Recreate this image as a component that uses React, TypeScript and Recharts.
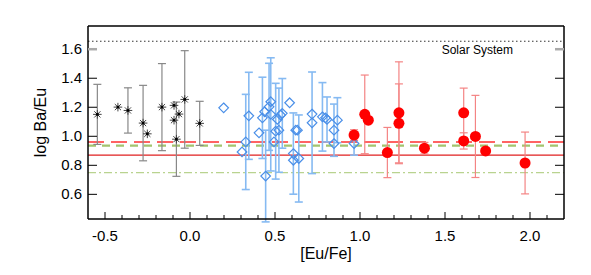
import React from 'react';
import { ComposedChart, Scatter, XAxis, YAxis, ErrorBar, ReferenceLine } from 'recharts';

const FONT = '"Liberation Sans", Arial, Helvetica, sans-serif';

// axis ticks
const xMajorTicks = [-0.5, 0.0, 0.5, 1.0, 1.5, 2.0];
const xMinorTicks = [-0.4, -0.3, -0.2, -0.1, 0.1, 0.2, 0.3, 0.4, 0.6, 0.7, 0.8, 0.9, 1.1, 1.2, 1.3, 1.4, 1.6, 1.7, 1.8, 1.9, 2.1];
const yTicks = [0.6, 0.8, 1.0, 1.2, 1.4, 1.6];

// horizontal reference levels
const solarLevel = 1.655;
const redDashedLevel = 0.96;
const greenDashedLevel = 0.935;
const redSolidLevel = 0.87;
const greenDashDotLevel = 0.75;

// black asterisks (err 0 = no error bar)
const starX = [-0.545, -0.424, -0.365, -0.276, -0.251, -0.165, -0.094, -0.094, -0.080, -0.065, -0.031, 0.057];
const starY = [1.151, 1.201, 1.178, 1.091, 1.017, 1.201, 1.213, 1.111, 0.980, 1.153, 1.254, 1.089];
const starErr = [0.207, 0, 0.156, 0.26, 0, 0.30, 0, 0, 0.256, 0, 0.336, 0.152];

// blue diamonds
const diaX = [0.198, 0.306, 0.328, 0.346, 0.406, 0.426, 0.439, 0.445, 0.465, 0.475, 0.475, 0.494, 0.504, 0.514, 0.523, 0.533, 0.543, 0.586, 0.608, 0.608, 0.622, 0.632, 0.640, 0.718, 0.718, 0.779, 0.797, 0.806, 0.847, 0.847, 0.867, 0.965];
const diaY = [1.196, 0.892, 0.961, 1.141, 1.024, 1.127, 1.169, 0.726, 1.203, 1.238, 1.151, 0.961, 1.035, 1.116, 1.042, 1.146, 1.158, 1.231, 0.881, 0.835, 1.042, 1.042, 0.847, 1.153, 1.093, 1.134, 1.127, 1.116, 1.042, 0.950, 1.111, 0.950];
const diaErr = [0, 0, 0.328, 0.30, 0, 0.28, 0, 0.316, 0.30, 0, 0.39, 0, 0.33, 0, 0.29, 0, 0.24, 0, 0.28, 0, 0, 0, 0.30, 0, 0.35, 0.236, 0, 0.155, 0.18, 0, 0.155, 0.08];

// red filled circles
const dotX = [0.965, 1.028, 1.049, 1.161, 1.229, 1.229, 1.379, 1.610, 1.610, 1.679, 1.739, 1.971];
const dotY = [1.008, 1.151, 1.111, 0.888, 1.162, 1.089, 0.918, 1.162, 0.968, 0.999, 0.899, 0.816];
const dotErr = [0.037, 0.271, 0, 0.173, 0.351, 0.272, 0.04, 0.17, 0.056, 0.283, 0, 0.213];

const toPoints = (xs: number[], ys: number[], es: number[]) =>
  xs.map((x, i) => ({ x, y: ys[i], err: es[i] }));

const stars = toPoints(starX, starY, starErr);
const diamonds = toPoints(diaX, diaY, diaErr);
const dots = toPoints(dotX, dotY, dotErr);

const hasErr = (p: any) => p.err > 0;
const noErr = (p: any) => !(p.err > 0);

const Star = (p: any) => {
  const { cx, cy } = p;
  const r = 4.3;
  const d = 3.1;
  return (
    <g stroke="#444" strokeWidth={1}>
      <line x1={cx - r} y1={cy} x2={cx + r} y2={cy} />
      <line x1={cx} y1={cy - r} x2={cx} y2={cy + r} />
      <line x1={cx - d} y1={cy - d} x2={cx + d} y2={cy + d} />
      <line x1={cx - d} y1={cy + d} x2={cx + d} y2={cy - d} />
      <rect x={cx - 1.3} y={cy - 1.3} width={2.6} height={2.6} fill="#000" stroke="none" />
    </g>
  );
};

const Diamond = (p: any) => {
  const { cx, cy } = p;
  const r = 4.8;
  return (
    <path d={`M${cx},${cy - r}L${cx + r},${cy}L${cx},${cy + r}L${cx - r},${cy}Z`}
      fill="none" stroke="#4a8fe8" strokeWidth={1.2} />
  );
};

const Dot = (p: any) => <circle cx={p.cx} cy={p.cy} r={5.5} fill="#ff0000" />;

const isMajorX = (v: number) => xMajorTicks.some(t => Math.abs(t - v) < 1e-6);

const BottomTick = (p: any) => {
  const { x, y, payload } = p;
  const major = isMajorX(payload.value);
  return (
    <g>
      <line x1={x} y1={y} x2={x} y2={y - (major ? 7 : 4)} stroke="#000" strokeWidth={1} />
      {major && (
        <text x={x} y={y + 22} textAnchor="middle" fontFamily={FONT} fontSize={15} fill="#000">
          {payload.value.toFixed(1)}
        </text>
      )}
    </g>
  );
};

const TopTick = (p: any) => {
  const { x, y, payload } = p;
  const major = isMajorX(payload.value);
  return <line x1={x} y1={y} x2={x} y2={y + (major ? 7 : 4)} stroke="#000" strokeWidth={1} />;
};

const LeftTick = (p: any) => {
  const { x, y, payload } = p;
  const top = Math.abs(payload.value - 1.6) < 1e-6;
  return (
    <g>
      <line x1={x} y1={y} x2={x + 9} y2={y} stroke={top ? '#aaa' : '#000'} strokeWidth={top ? 2.5 : 1} />
      <text x={x - 6} y={y + 5} textAnchor="end" fontFamily={FONT} fontSize={15} fill="#000">
        {payload.value.toFixed(1)}
      </text>
    </g>
  );
};

const RightTick = (p: any) => {
  const { x, y, payload } = p;
  const top = Math.abs(payload.value - 1.6) < 1e-6;
  return <line x1={x} y1={y} x2={x - 9} y2={y} stroke={top ? '#aaa' : '#000'} strokeWidth={top ? 2.5 : 1} />;
};

const axisLine = { stroke: '#000', strokeWidth: 1.5 };
const xDomain: [number, number] = [-0.6, 2.2];
const yDomain: [number, number] = [0.43, 1.76];
const allXTicks = [...xMajorTicks, ...xMinorTicks].sort((a, b) => a - b);

export default function App() {
  return (
    <div style={{ position: 'absolute', left: 0, top: 0 }}>
      <ComposedChart width={591} height={275} margin={{ top: 16, right: 17, bottom: 26, left: 28 }}>
        <XAxis xAxisId="b" dataKey="x" type="number" orientation="bottom" domain={xDomain} ticks={allXTicks}
          interval={0} allowDataOverflow height={30} tickSize={0} tickMargin={0} tickLine={false}
          axisLine={axisLine} tick={BottomTick}
          label={{ content: (lp: any) => (
            <text x={lp.viewBox.x + lp.viewBox.width / 2} y={lp.viewBox.y + 40} textAnchor="middle"
              fontFamily={FONT} fontSize={16} fill="#000">[Eu/Fe]</text>
          ) }} />
        <XAxis xAxisId="t" type="number" orientation="top" domain={xDomain} ticks={allXTicks}
          interval={0} allowDataOverflow height={10} tickSize={0} tickMargin={0} tickLine={false}
          axisLine={axisLine} tick={TopTick} />
        <YAxis yAxisId="l" dataKey="y" type="number" orientation="left" domain={yDomain} ticks={yTicks}
          interval={0} allowDataOverflow width={60} tickSize={0} tickMargin={0} tickLine={false}
          axisLine={axisLine} tick={LeftTick}
          label={{ content: (lp: any) => {
            const cx = lp.viewBox.x + 18;
            const cy = lp.viewBox.y + lp.viewBox.height / 2;
            return (
              <text x={cx} y={cy} transform={`rotate(-90, ${cx}, ${cy})`} textAnchor="middle"
                fontFamily={FONT} fontSize={16} fill="#000">log Ba/Eu</text>
            );
          } }} />
        <YAxis yAxisId="r" type="number" orientation="right" domain={yDomain} ticks={yTicks}
          interval={0} allowDataOverflow width={10} tickSize={0} tickMargin={0} tickLine={false}
          axisLine={axisLine} tick={RightTick} />

        <ReferenceLine xAxisId="b" yAxisId="l" y={solarLevel} stroke="#333" strokeWidth={1} strokeDasharray="1.5 2.5"
          label={{ content: (lp: any) => (
            <text x={lp.viewBox.x + lp.viewBox.width - 51} y={lp.viewBox.y + 13} textAnchor="end"
              fontFamily={FONT} fontSize={12} fill="#000">Solar System</text>
          ) }} />
        <ReferenceLine xAxisId="b" yAxisId="l" y={greenDashDotLevel} stroke="#b9d38f" strokeWidth={1.3} strokeDasharray="8 3 2 3" />
        <ReferenceLine xAxisId="b" yAxisId="l" y={redSolidLevel} stroke="#e02020" strokeWidth={1.2} />
        <ReferenceLine xAxisId="b" yAxisId="l" y={greenDashedLevel} stroke="#a3c46f" strokeWidth={2.2} strokeDasharray="8 6" />
        <ReferenceLine xAxisId="b" yAxisId="l" y={redDashedLevel} stroke="#ff3030" strokeWidth={1.5} strokeDasharray="16 7" />

        <Scatter xAxisId="b" yAxisId="l" data={stars.filter(hasErr)} shape={Star} isAnimationActive={false}>
          <ErrorBar dataKey="err" direction="y" width={4} stroke="#888" strokeWidth={1.2} />
        </Scatter>
        <Scatter xAxisId="b" yAxisId="l" data={stars.filter(noErr)} shape={Star} isAnimationActive={false} />

        <Scatter xAxisId="b" yAxisId="l" data={diamonds.filter(hasErr)} shape={Diamond} isAnimationActive={false}>
          <ErrorBar dataKey="err" direction="y" width={4} stroke="#86baf2" strokeWidth={1.6} />
        </Scatter>
        <Scatter xAxisId="b" yAxisId="l" data={diamonds.filter(noErr)} shape={Diamond} isAnimationActive={false} />

        <Scatter xAxisId="b" yAxisId="l" data={dots.filter(hasErr)} shape={Dot} isAnimationActive={false}>
          <ErrorBar dataKey="err" direction="y" width={4} stroke="#f48484" strokeWidth={1.2} />
        </Scatter>
        <Scatter xAxisId="b" yAxisId="l" data={dots.filter(noErr)} shape={Dot} isAnimationActive={false} />
      </ComposedChart>
    </div>
  );
}
